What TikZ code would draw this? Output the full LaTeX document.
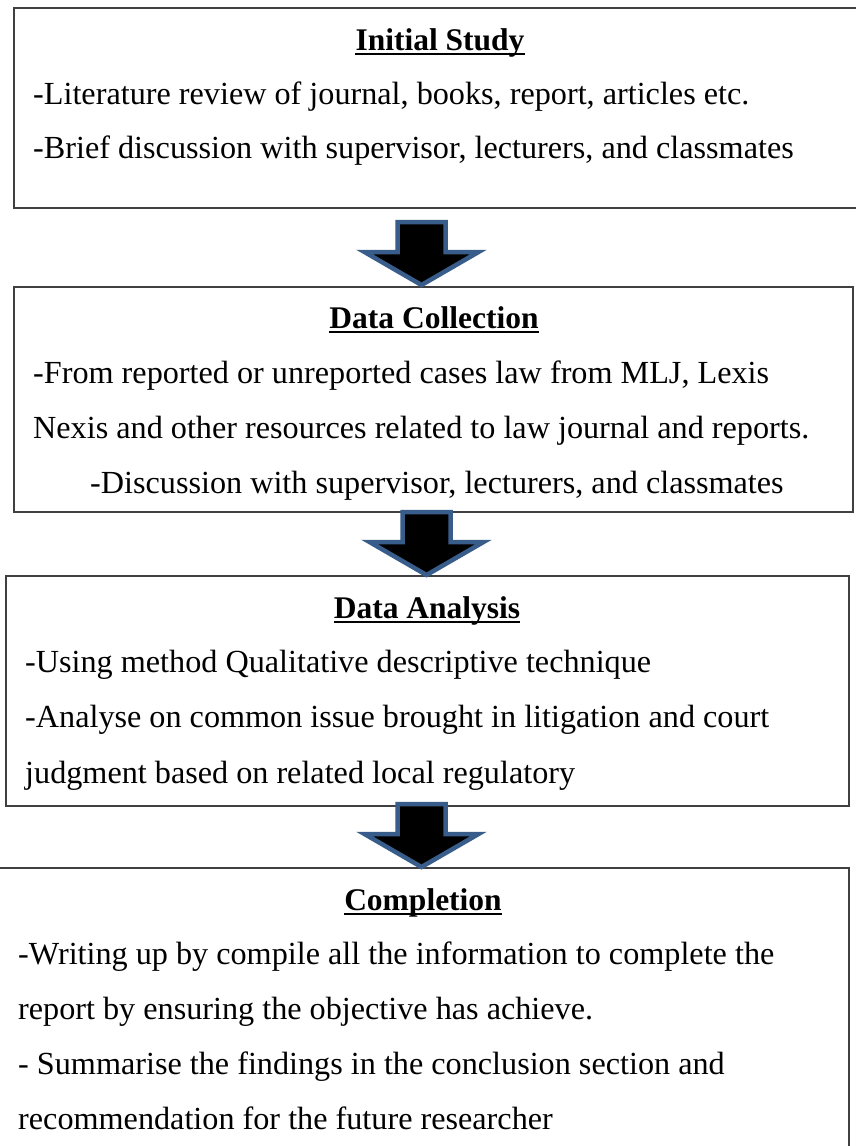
\documentclass[tikz,border=0pt]{standalone}
\usepackage{fontspec}
\setmainfont{Liberation Serif}
\definecolor{arrowblue}{RGB}{56,93,138}
\definecolor{boxgray}{RGB}{64,64,64}
\tikzset{
  box/.style={draw=boxgray,line width=1.8pt,anchor=north west,inner sep=0pt},
  txt/.style={anchor=base west,inner sep=0pt},
  head/.style={anchor=base,inner sep=0pt,font=\fontsize{31.5}{36}\selectfont\bfseries},
  flowarr/.style={draw=arrowblue,line width=4.5pt,fill=black,line join=miter}
}
\newcommand{\flowarrow}[3]{%
  \draw[flowarr] (#1-24,#2) -- (#1+24,#2) -- (#1+24,#3-33) -- (#1+57,#3-33)
    -- (#1,#3) -- (#1-57,#3-33) -- (#1-24,#3-33) -- cycle;}
\begin{document}
\begin{tikzpicture}[x=1pt,y=-1pt,font=\fontsize{32.2}{36}\selectfont]
  \useasboundingbox (0,0) rectangle (856,1146);
  \node[box,minimum width=867pt,minimum height=200pt] (init) at (13,7) {};
  \node[box,minimum width=839pt,minimum height=225pt] (collect) at (13,286) {};
  \node[box,minimum width=843pt,minimum height=230pt] (analysis) at (5,575) {};
  \node[box,minimum width=858pt,minimum height=300pt] (complete) at (-10,867) {};
  \flowarrow{421.5}{222}{285}
  \flowarrow{426.5}{512}{575}
  \flowarrow{421.5}{804}{867}
  \node[head] (t1) at (440,50) {Initial Study};
  \node[txt] (l11) at (33,104) {-Literature review of journal, books, report, articles etc.};
  \node[txt] (l12) at (33,158) {-Brief discussion with supervisor, lecturers, and classmates};
  \node[head] (t2) at (434,328) {Data Collection};
  \node[txt] (l21) at (33,383) {-From reported or unreported cases law from MLJ, Lexis};
  \node[txt] (l22) at (33,438) {Nexis and other resources related to law journal and reports.};
  \node[txt] (l23) at (90,493) {-Discussion with supervisor, lecturers, and classmates};
  \node[head] (t3) at (427,618) {Data Analysis};
  \node[txt] (l31) at (25,672) {-Using method Qualitative descriptive technique};
  \node[txt] (l32) at (25,727) {-Analyse on common issue brought in litigation and court};
  \node[txt] (l33) at (25,783) {judgment based on related local regulatory};
  \node[head] (t4) at (423,910) {Completion};
  \node[txt] (l41) at (18,964) {-Writing up by compile all the information to complete the};
  \node[txt] (l42) at (18,1019) {report by ensuring the objective has achieve.};
  \node[txt] (l43) at (18,1074) {- Summarise the findings in the conclusion section and};
  \node[txt] (l44) at (18,1129) {recommendation for the future researcher};
  \foreach \t in {t1,t2,t3,t4}
    \draw[line width=2.8pt] ([yshift=-4pt]\t.base west) -- ([yshift=-4pt]\t.base east);
\end{tikzpicture}
\end{document}
